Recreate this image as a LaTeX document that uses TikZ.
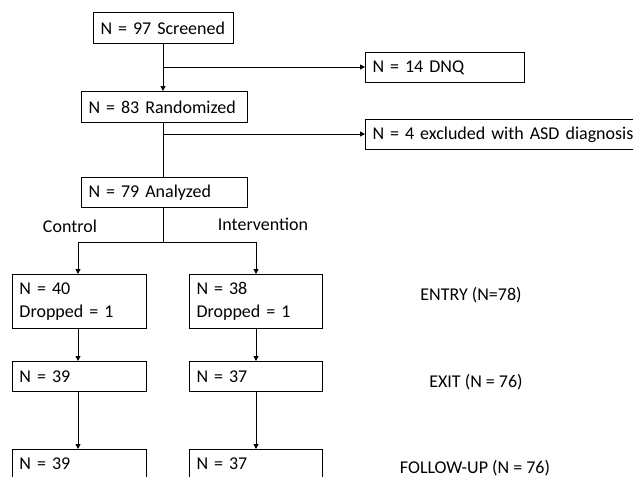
\documentclass[tikz,border=0pt]{standalone}
\usepackage{fontspec}
\setmainfont{Carlito}
\usetikzlibrary{arrows.meta}
\begin{document}
\begin{tikzpicture}[x=1pt,y=-1pt,
  box/.style={draw, line width=1pt, anchor=north west, inner xsep=7pt, inner ysep=0pt, align=left, font=\fontsize{18}{23}\selectfont},
  lbl/.style={font=\fontsize{18}{22}\selectfont, inner sep=0pt},
  conn/.style={line width=1pt},
  arr/.style={conn, -{Triangle[length=5pt,width=5pt]}}]
\useasboundingbox (0,0) rectangle (633,477);
\clip (0,0) rectangle (633,477);
% top chain
\node[box, minimum width=140, minimum height=31, text width=126] (scr) at (93,12) {N = 97 Screened};
\node[box, minimum width=159, minimum height=30, text width=145] (dnq) at (365,52) {N = 14 DNQ};
\node[box, minimum width=166, minimum height=31, text width=152] (rnd) at (81,91) {N = 83 Randomized};
\node[box, minimum width=300, minimum height=30, text width=286] (asd) at (365,119) {N = 4 excluded with ASD diagnosis};
\node[box, minimum width=166, minimum height=30, text width=152] (ana) at (81,177) {N = 79 Analyzed};
% arms
\node[box, minimum width=134, minimum height=54, text width=120] (c1) at (12,274) {N = 40\\Dropped = 1};
\node[box, minimum width=133, minimum height=54, text width=119] (i1) at (189,274) {N = 38\\Dropped = 1};
\node[box, minimum width=134, minimum height=30, text width=120] (c2) at (12,361) {N = 39};
\node[box, minimum width=133, minimum height=30, text width=119] (i2) at (189,361) {N = 37};
\node[box, text height=20pt, text depth=14pt, minimum width=134, text width=120] (c3) at (12,449) {N = 39};
\node[box, text height=20pt, text depth=14pt, minimum width=133, text width=119] (i3) at (189,449) {N = 37};
% labels
\node[lbl] (ctl) at (70,226) {Control};
\node[lbl] (int) at (263,224) {Intervention};
\node[lbl] (entry) at (471,295) {ENTRY (N=78)};
\node[lbl] (exit) at (476,382) {EXIT (N = 76)};
\node[lbl] (fu) at (475,468) {FOLLOW-UP (N = 76)};
% connectors
\coordinate (b1) at (163,67);
\coordinate (b2) at (163,134);
\coordinate (split) at (163,242);
\coordinate (sl) at (78,242);
\coordinate (sr) at (256,242);
\draw[arr] (scr.south -| b1) -- (rnd.north -| b1);
\draw[arr] (b1) -- (b1 -| dnq.west);
\draw[conn] (rnd.south -| b2) -- (ana.north -| b2);
\draw[arr] (b2) -- (b2 -| asd.west);
\draw[conn] (ana.south -| split) -- (split);
\draw[conn] (sl) -- (sr);
\draw[arr] (sl) -- (sl |- c1.north);
\draw[arr] (sr) -- (sr |- i1.north);
\draw[arr] (c1.south -| sl) -- (c2.north -| sl);
\draw[arr] (i1.south -| sr) -- (i2.north -| sr);
\draw[arr] (c2.south -| sl) -- (c3.north -| sl);
\draw[arr] (i2.south -| sr) -- (i3.north -| sr);
\end{tikzpicture}
\end{document}
